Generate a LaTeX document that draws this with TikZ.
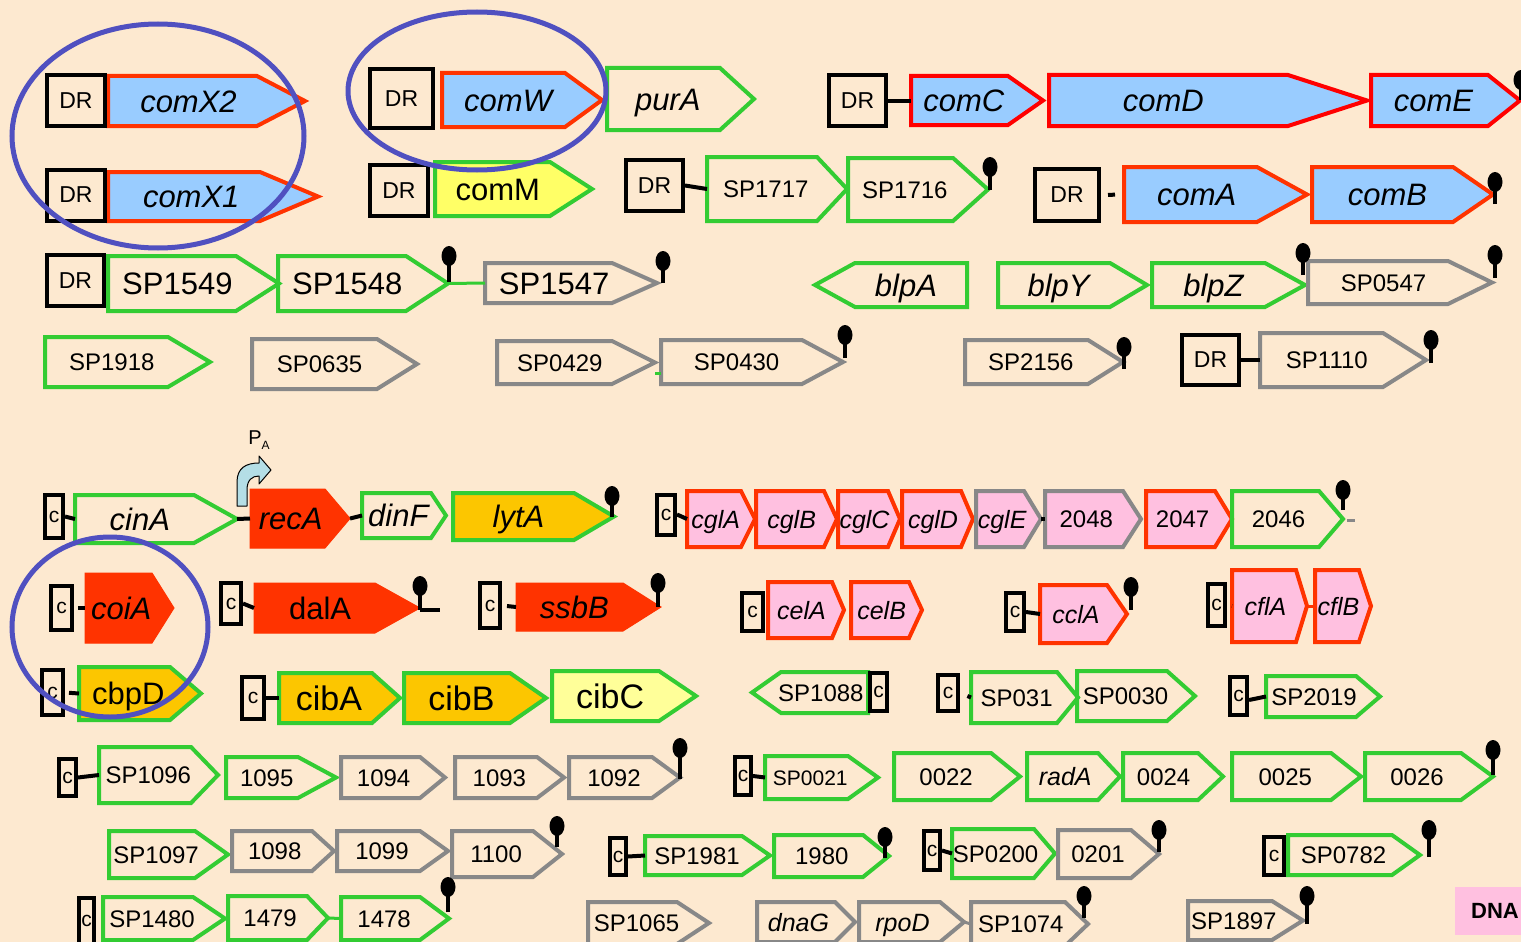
\documentclass[tikz,border=0pt]{standalone}
\usepackage{fontspec}
\setmainfont{Liberation Sans}
\usetikzlibrary{calc}
\definecolor{bg}{RGB}{253,233,208}
\definecolor{comblue}{RGB}{153,204,255}
\definecolor{outred}{RGB}{255,51,0}
\definecolor{purered}{RGB}{255,0,0}
\definecolor{gnlin}{RGB}{51,204,51}
\definecolor{grlin}{RGB}{136,136,136}
\definecolor{yelfill}{RGB}{255,255,102}
\definecolor{goldfill}{RGB}{252,198,0}
\definecolor{lemonfill}{RGB}{255,255,153}
\definecolor{pinkfill}{RGB}{255,192,224}
\definecolor{ringblue}{RGB}{80,80,192}
\definecolor{pablue}{RGB}{180,222,230}
\tikzset{
  gene/.style={line width=4pt, line join=miter},
  com/.style={fill=comblue, draw=outred},
  comred/.style={fill=comblue, draw=purered},
  gnopen/.style={draw=gnlin},
  gropen/.style={draw=grlin},
  yel/.style={fill=yelfill, draw=gnlin},
  goldgene/.style={fill=goldfill, draw=gnlin},
  lemon/.style={fill=lemonfill, draw=gnlin},
  redfill/.style={fill=outred, draw=outred, line width=1pt},
  pinkred/.style={fill=pinkfill, draw=outred},
  pinkgrey/.style={fill=pinkfill, draw=grlin},
  fhuge/.style={font=\fontsize{34}{34}\selectfont},
  fbig/.style={font=\fontsize{31}{31}\selectfont},
  fbigit/.style={font=\fontsize{31}{31}\selectfont\itshape},
  fmed/.style={font=\fontsize{24}{24}\selectfont},
  fmedit/.style={font=\fontsize{25}{25}\selectfont\itshape},
  fsmall/.style={font=\fontsize{21}{21}\selectfont},
  genelabel/.style={inner sep=0pt},
  drbox/.style={draw, line width=4pt, minimum width=58pt, minimum height=51pt, inner sep=0pt, font=\fontsize{23}{23}\selectfont},
  cbox/.style={draw, line width=4pt, minimum width=18pt, minimum height=40pt, inner sep=0pt, font=\fontsize{21}{21}\selectfont},
  link/.style={line width=4pt},
  stem/.style={line width=4.5pt},
  ring/.style={draw=ringblue, line width=5pt},
}
% [style]{name}{x1}{y1}{x2}{y2}{tip}{label}
\newcommand{\genebox}[8][]{%
  \draw[gene,#1] (#3,#4) -- ({#5-(#7)},#4) -- (#5,{(#4+#6)/2}) coordinate (#2-e) -- ({#5-(#7)},#6) -- (#3,#6) -- cycle
    node[genelabel] (#2) at ({(#3+#5-0.75*(#7))/2},{(#4+#6)/2}) {\raisebox{0pt}[0.72em][0pt]{#8}};
  \coordinate (#2-w) at (#3,{(#4+#6)/2});
}
\newcommand{\stopper}[3]{\draw[stem] (#1,#2) -- (#1,#3); \fill (#1,#3) ellipse (7.5 and 10);}

\begin{document}
\begin{tikzpicture}[x=1pt,y=-1pt]
\clip (0,0) rectangle (1521,942);
\fill[bg] (0,0) rectangle (1521,942);

\genebox[com,fbigit]{comX2}{108}{76}{305}{126}{48}{comX2}
\genebox[com,fbigit]{comX1}{108}{172}{318}{221}{58}{comX1}
\genebox[com,fbigit]{comW}{442}{73}{602}{127}{37}{comW}
\genebox[gnopen,fbigit]{purA}{607}{68}{754}{130}{34}{purA}
\genebox[comred,fbigit]{comC}{911}{76}{1043}{125}{35}{comC}
\genebox[comred,fbigit]{comD}{1049}{75}{1367}{126}{79}{comD\hspace*{30pt}}
\genebox[comred,fbigit]{comE}{1371}{75}{1520}{126}{32}{comE}
\node[drbox] (drcomX2) at (76,100.5) {DR};
\node[drbox] (drcomX1) at (76,195) {DR};
\node[drbox, minimum width=63pt, minimum height=59pt] (drcomW) at (401.5,98.5) {DR};
\node[drbox, minimum width=57pt] (drcomC) at (857.5,100.5) {DR};
\draw[link] (drcomC.east) -- (comC-w);
\stopper{1521}{100}{80}

\genebox[yel,fbig]{comM}{435}{162}{592}{216}{42}{comM}
\genebox[gnopen,fmed]{SP1717}{707}{157}{847}{221}{30}{SP1717}
\genebox[gnopen,fmed]{SP1716}{848}{158}{988}{221}{35}{SP1716}
\genebox[com,fbigit]{comA}{1124}{167}{1307}{222}{50}{comA}
\genebox[com,fbigit]{comB}{1312}{167}{1493}{222}{40}{comB}
\node[drbox] (drcomM) at (399,190.5) {DR};
\node[drbox, minimum width=57pt] (drSP1717) at (654.5,185.5) {DR};
\node[drbox, minimum width=64pt, minimum height=52pt] (drcomA) at (1067,195) {DR};
\draw[link] (drSP1717.east) -- (SP1717-w);
\draw[link, shorten <=7pt, shorten >=9pt] (drcomA.east) -- (comA-w);
\stopper{990}{190}{167}
\stopper{1495}{204}{182}

\genebox[gnopen,fbig]{SP1549}{108}{256}{279}{311}{43}{SP1549}
\genebox[gnopen,fbig]{SP1548}{278}{256}{448}{311}{42}{SP1548}
\genebox[gropen,fbig]{SP1547}{485}{263}{657}{303}{45}{SP1547}
\genebox[gnopen,fbigit]{blpA}{967}{263}{815}{307}{-40}{blpA}
\genebox[gnopen,fbigit]{blpY}{998}{263}{1147}{307}{37}{blpY}
\genebox[gnopen,fbigit]{blpZ}{1152}{263}{1305}{307}{40}{blpZ}
\genebox[gropen,fmed]{SP0547}{1308}{261}{1492}{304}{44}{SP0547}
\node[drbox, minimum width=57pt] (drSP1549) at (75.5,280.5) {DR};
\draw[link, draw=gnlin, line width=3pt] (SP1548-e) -- (SP1547-w);
\stopper{449}{282}{256}
\stopper{663}{283}{261}
\stopper{1303}{275}{253}
\stopper{1495}{278}{255}

\genebox[gnopen,fmed]{SP1918}{45}{337}{210}{387}{42}{SP1918}
\genebox[gropen,fmed]{SP0635}{252}{339}{417}{389}{40}{SP0635}
\genebox[gropen,fmed]{SP0429}{497}{341}{655}{384}{43}{SP0429}
\genebox[gropen,fmed]{SP0430}{661}{340}{843}{384}{41}{SP0430}
\genebox[gropen,fmed]{SP2156}{965}{340}{1123}{384}{35}{SP2156}
\genebox[gropen,fmed]{SP1110}{1260}{333}{1426}{387}{43}{SP1110}
\node[drbox, minimum width=57pt, minimum height=50pt] (drSP1110) at (1210.5,360) {DR};
\draw[link] (drSP1110.east) -- (SP1110-w);
\draw[link, draw=gnlin, line width=3pt] ($(SP0430-w)+(0,11)$) -- ++(-6,0);
\stopper{845}{358}{335}
\stopper{1124}{369}{347}
\stopper{1431}{363}{340}

\genebox[gnopen,fbigit]{cinA}{75}{495}{237}{543}{43}{cinA}
\genebox[redfill,fbigit]{recA}{250}{489}{350}{548}{25}{recA}
\genebox[gnopen,fbigit]{dinF}{362}{493}{446}{538}{15}{dinF}
\genebox[goldgene,fbigit]{lytA}{453}{493}{614}{540}{40}{lytA}
\node[cbox, minimum height=43pt] (ccinA) at (54,516.5) {c};
\draw[link] (ccinA.east) -- (cinA-w);
\draw[link] (cinA-e) -- (recA-w);
\draw[link] (recA-e) -- (dinF-w);
\stopper{612}{517}{496}
\draw[fill=pablue, line width=1pt, line join=round] (237,506) -- (237,482) .. controls (237,468) and (246,463) .. (259,463) -- (259,456) -- (271,470) -- (259,484) -- (259,476) .. controls (252,476) and (247,480) .. (247,490) -- (247,506) -- cycle;
\node[font=\fontsize{20}{20}\selectfont, inner sep=0pt] (PA) at (259,440) {P\raisebox{-5pt}{\fontsize{12}{12}\selectfont A}};

\genebox[pinkred,fmedit]{cglA}{687}{491}{755}{547}{14}{cglA}
\genebox[pinkred,fmedit]{cglB}{756}{491}{837}{547}{13}{cglB}
\genebox[pinkred,fmedit]{cglC}{838}{491}{900}{547}{12}{cglC}
\genebox[pinkred,fmedit]{cglD}{902}{491}{973}{547}{12}{cglD}
\genebox[pinkgrey,fmedit]{cglE}{976}{491}{1041}{547}{17}{cglE}
\genebox[pinkgrey,fmed]{g2048}{1045}{491}{1141}{547}{18}{2048}
\genebox[pinkred,fmed]{g2047}{1146}{491}{1232}{547}{17}{2047}
\genebox[gnopen,fmed]{g2046}{1232}{491}{1343}{547}{24}{2046}
\node[cbox] (ccglA) at (666,514.5) {c};
\draw[link] (ccglA.east) -- (cglA-w);
\draw[link] (cglE-e) -- (g2048-w);
\draw[link, draw=grlin, line width=3pt] ($(g2046-e)+(4,1)$) -- ++(8,0);
\stopper{1343}{510}{490}

\genebox[redfill,fbigit]{coiA}{85}{573}{174}{643}{22}{coiA}
\genebox[redfill,fbig]{dalA}{254}{583}{420}{633}{45}{dalA}
\genebox[redfill,fbigit]{ssbB}{516}{583}{661}{631}{38}{ssbB}
\genebox[pinkred,fmedit]{celA}{768}{582}{844}{638}{12}{celA}
\genebox[pinkred,fmedit]{celB}{851}{582}{922}{638}{13}{celB}
\genebox[pinkred,fmedit]{cclA}{1040}{585}{1127}{643}{20}{cclA}
\genebox[pinkred,fmedit]{cflA}{1232}{570}{1307}{642}{11}{cflA}
\genebox[pinkred,fmedit]{cflB}{1315}{570}{1371}{642}{12}{cflB}
\node[cbox, minimum width=21pt, minimum height=44pt] (ccoiA) at (61.5,608) {c};
\node[cbox, minimum width=20pt, minimum height=41pt] (cdalA) at (231,603.5) {c};
\node[cbox, minimum width=20pt, minimum height=45pt] (cssbB) at (490,605.5) {c};
\node[cbox, minimum width=21pt, minimum height=38pt] (ccelA) at (752.5,612) {c};
\node[cbox, minimum height=38pt] (ccclA) at (1015,612) {c};
\node[cbox, minimum width=17pt, minimum height=42pt] (ccflA) at (1216.5,605) {c};
\draw[link, shorten <=4pt] (ccoiA.east) -- (coiA-w);
\draw[link] (cdalA.east) -- (dalA-w);
\draw[link, shorten <=5pt] (cssbB.east) -- (ssbB-w);
\draw[link] (ccclA.east) -- (cclA-w);
\draw[link, shorten <=5pt] (ccflA.east) -- (cflA-w);
\draw[link, draw=outred, line width=3pt] (cflA-e) -- (cflB-w);
\stopper{420}{610}{586}
\draw[link] (420,610) -- (440,610);
\stopper{658}{607}{583}
\stopper{1131}{610}{587}

\genebox[goldgene,fbig]{cbpD}{79}{667}{201}{720}{31}{cbpD}
\genebox[goldgene,fhuge]{cibA}{279}{673}{400}{723}{28}{cibA}
\genebox[goldgene,fhuge]{cibB}{404}{673}{546}{723}{36}{cibB}
\genebox[lemon,fhuge]{cibC}{552}{671}{696}{721}{37}{cibC}
\genebox[gnopen,fmed]{SP1088}{868}{672}{752}{713}{-29}{SP1088}
\genebox[gnopen,fmed]{SP031}{971}{672}{1078}{723}{21}{SP031}
\genebox[gnopen,fmed]{SP0030}{1077}{671}{1195}{721}{28}{SP0030}
\genebox[gnopen,fmed]{SP2019}{1266}{676}{1380}{717}{24}{SP2019}
\node[cbox, minimum width=21pt, minimum height=45pt] (ccbpD) at (52.5,692.5) {c};
\node[cbox, minimum width=22pt, minimum height=42pt] (ccibA) at (253,698) {c};
\node[cbox, minimum width=17pt, minimum height=38pt] (cSP1088) at (878.5,692) {c};
\node[cbox, minimum width=20pt, minimum height=36pt] (cSP031) at (948,693) {c};
\node[cbox, minimum width=17pt, minimum height=38pt] (cSP2019) at (1238.5,696) {c};
\draw[link, shorten <=4pt] (ccbpD.east) -- (cbpD-w);
\draw[link] (ccibA.east) -- (cibA-w);
\draw[link, shorten <=8pt] (cSP031.east) -- (SP031-w);
\draw[link] (cSP2019.east) ++(0,4) -- (SP2019-w);

\genebox[gnopen,fmed]{SP1096}{99}{747}{218}{803}{27}{SP1096}
\genebox[gnopen,fmed]{g1095}{226}{757}{336}{798}{38}{1095}
\genebox[gropen,fmed]{g1094}{341}{757}{445}{798}{25}{1094}
\genebox[gropen,fmed]{g1093}{455}{757}{564}{798}{27}{1093}
\genebox[gropen,fmed]{g1092}{569}{757}{680}{798}{28}{1092}
\genebox[gnopen,fsmall]{SP0021}{765}{756}{878}{799}{30}{SP0021}
\genebox[gnopen,fmed]{g0022}{894}{753}{1020}{800}{29}{0022}
\genebox[gnopen,fmedit]{radA}{1027}{753}{1120}{800}{22}{radA}
\genebox[gnopen,fmed]{g0024}{1123}{753}{1223}{800}{25}{0024}
\genebox[gnopen,fmed]{g0025}{1232}{753}{1361}{800}{30}{0025}
\genebox[gnopen,fmed]{g0026}{1365}{753}{1493}{800}{32}{0026}
\node[cbox, minimum width=17pt, minimum height=37pt] (cSP1096) at (67.5,777.5) {c};
\node[cbox, minimum width=16pt, minimum height=38pt] (cSP0021) at (743,776) {c};
\draw[link] (cSP1096.east) -- (SP1096-w);
\draw[link] (cSP0021.east) -- (SP0021-w);
\stopper{680}{779}{748}
\stopper{1493}{775}{750}

\genebox[gnopen,fmed]{SP1097}{109}{831}{228}{878}{33}{SP1097}
\genebox[gropen,fmed]{g1098}{232}{831}{334}{871}{22}{1098}
\genebox[gropen,fmed]{g1099}{337}{831}{448}{871}{28}{1099}
\genebox[gropen,fmed]{g1100}{452}{831}{562}{877}{29}{1100}
\genebox[gnopen,fmed]{SP1981}{645}{836}{770}{875}{28}{SP1981}
\genebox[gnopen,fmed]{g1980}{774}{835}{889}{877}{26}{1980}
\genebox[gnopen,fmed]{SP0200}{952}{829}{1055}{878}{21}{SP0200}
\genebox[gropen,fmed]{g0201}{1058}{830}{1159}{878}{28}{0201}
\genebox[gnopen,fmed]{SP0782}{1288}{835}{1420}{875}{28}{SP0782}
\node[cbox, minimum width=16pt, minimum height=37pt] (cSP1981) at (618,856.5) {c};
\node[cbox, minimum width=16pt, minimum height=39pt] (cSP0200) at (932,850.5) {c};
\node[cbox, minimum width=20pt, minimum height=38pt] (cSP0782) at (1274,856) {c};
\draw[link] (cSP1981.east) -- (SP1981-w);
\draw[link] (cSP0200.east) -- (SP0200-w);
\stopper{557}{847}{826}
\stopper{885}{858}{837}
\stopper{1159}{852}{830}
\stopper{1429}{857}{830}

\genebox[gnopen,fmed]{SP1480}{103}{897}{225}{940}{32}{SP1480}
\genebox[gnopen,fmed]{g1479}{228}{896}{328}{940}{21}{1479}
\genebox[gnopen,fmed]{g1478}{341}{897}{449}{940}{29}{1478}
\genebox[gropen,fmed]{SP1065}{588}{902}{709}{944}{32}{SP1065}
\genebox[gropen,fmedit]{dnaG}{757}{902}{855}{942}{20}{dnaG}
\genebox[gropen,fmedit]{rpoD}{859}{902}{964}{942}{24}{rpoD}
\genebox[gropen,fmed]{SP1074}{971}{902}{1088}{946}{23}{SP1074}
\genebox[gropen,fmed]{SP1897}{1188}{901}{1303}{940}{31}{SP1897}
\node[cbox, minimum width=15pt, minimum height=46pt] (cSP1480) at (86.5,921) {c};
\draw[link, draw=gnlin, line width=3pt] (g1479-e) -- (g1478-w);
\draw[link, draw=grlin, line width=3pt] (rpoD-e) -- (SP1074-w);
\stopper{448}{912}{887}
\stopper{1084}{918}{896}
\stopper{1307}{924}{896}
\fill[pinkfill] (1455,887) rectangle (1530,935);
\node[anchor=west, inner sep=0pt, font=\fontsize{22}{22}\selectfont\bfseries] (dna) at (1471,911) {DNA};

\draw[ring] (158,136) ellipse (146 and 112);
\draw[ring] (477,91) ellipse (129 and 79);
\draw[ring] (110,627) ellipse (98 and 90);
\end{tikzpicture}
\end{document}
